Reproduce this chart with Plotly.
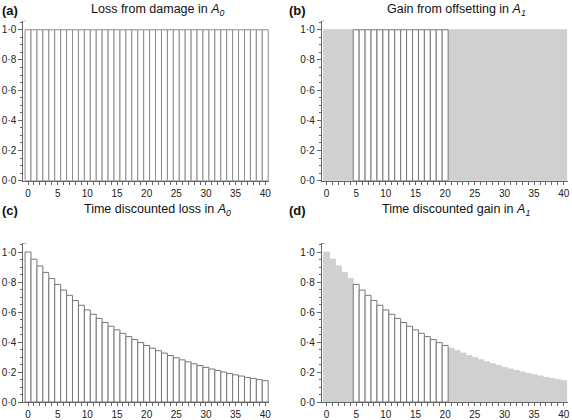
import plotly.graph_objects as go

# ---- data ----
years = list(range(41))
loss_a = [1.0] * 41
gain_b = [1.0] * 41
offset_start = 5
offset_end = 20
discounted = [1.000, 0.952, 0.907, 0.864, 0.823, 0.784, 0.746, 0.711, 0.677, 0.645,
              0.614, 0.585, 0.557, 0.530, 0.505, 0.481, 0.458, 0.436, 0.416, 0.396,
              0.377, 0.359, 0.342, 0.326, 0.310, 0.295, 0.281, 0.268, 0.255, 0.243,
              0.231, 0.220, 0.210, 0.200, 0.190, 0.181, 0.173, 0.164, 0.157, 0.149,
              0.142]
x_tickvals = [0, 5, 10, 15, 20, 25, 30, 35, 40]
x_ticktext = ["0", "5", "10", "15", "20", "25", "30", "35", "40"]
y_tickvals = [0.0, 0.2, 0.4, 0.6, 0.8, 1.0]
y_ticktext = ["0·0", "0·2", "0·4", "0·6", "0·8", "1·0"]
titles = ["Loss from damage in <i>A<sub>0</sub></i>",
          "Gain from offsetting in <i>A<sub>1</sub></i>",
          "Time discounted loss in <i>A<sub>0</sub></i>",
          "Time discounted gain in <i>A<sub>1</sub></i>"]
panel_labels = ["(a)", "(b)", "(c)", "(d)"]

W, H = 572, 420
EDGE = "#8c8c8c"
GRAY = "#d0d0d0"
AXC = "#666666"
FONT = "Liberation Sans, Arial, sans-serif"

fig = go.Figure()

# panel pixel geometry
xdoms = [(23.3 / W, 269.4 / W), (321.8 / W, 567.9 / W)]
ydoms = [(1 - 180.7 / H, 1 - 20.7 / H), (1 - 402.0 / H, 1 - 243.0 / H)]
panels = [("x", "y", 0, 0), ("x2", "y2", 1, 0), ("x3", "y3", 0, 1), ("x4", "y4", 1, 1)]


def bar(xs, ys, fill, line, xa, ya):
    fig.add_trace(go.Bar(x=xs, y=ys, width=1.0, marker=dict(color=fill, line=dict(color=line, width=1)),
                         xaxis=xa, yaxis=ya, showlegend=False, hoverinfo="skip"))


def split(values):
    gx, gy, wx, wy = [], [], [], []
    for t, v in zip(years, values):
        if offset_start <= t <= offset_end:
            wx.append(t); wy.append(v)
        else:
            gx.append(t); gy.append(v)
    return gx, gy, wx, wy


# (a)
bar(years, loss_a, "white", EDGE, "x", "y")
# (b)
gx, gy, wx, wy = split(gain_b)
bar(gx, gy, GRAY, GRAY, "x2", "y2")
bar(wx, wy, "white", "#777777", "x2", "y2")
# (c)
bar(years, discounted, "white", "#777777", "x3", "y3")
# (d)
gx, gy, wx, wy = split(discounted)
bar(gx, gy, GRAY, GRAY, "x4", "y4")
bar(wx, wy, "white", "#777777", "x4", "y4")

layout = dict(
    width=W, height=H, margin=dict(l=0, r=0, t=0, b=0),
    paper_bgcolor="white", plot_bgcolor="white",
    barmode="overlay", bargap=0,
    font=dict(family=FONT, size=10, color="#222222"),
)

for i, (xa, ya, cx, cy) in enumerate(panels):
    xk = "xaxis" + ("" if i == 0 else str(i + 1))
    yk = "yaxis" + ("" if i == 0 else str(i + 1))
    layout[xk] = dict(domain=list(xdoms[cx]), range=[-0.8, 40.7], anchor=ya,
                      tickmode="array", tickvals=x_tickvals, ticktext=x_ticktext,
                      ticks="outside", ticklen=3, tickcolor=AXC, tickwidth=1,
                      showline=True, linecolor=AXC, linewidth=1, showgrid=False, zeroline=False,
                      minor=dict(tickmode="linear", tick0=0, dtick=1, ticks="outside", ticklen=3,
                                 tickcolor=AXC, tickwidth=1, showgrid=False),
                      tickfont=dict(size=10, color="#222222"), automargin=False, fixedrange=True)
    layout[yk] = dict(domain=list(ydoms[cy]), range=[0, 1.06], anchor=xa,
                      tickmode="array", tickvals=y_tickvals, ticktext=y_ticktext,
                      ticks="outside", ticklen=4, tickcolor=AXC, tickwidth=1,
                      ticklabelstandoff=0,
                      showline=True, linecolor=AXC, linewidth=1, showgrid=False, zeroline=False,
                      minor=dict(tickmode="linear", tick0=0, dtick=0.05, ticks="outside", ticklen=2,
                                 tickcolor=AXC, tickwidth=1, showgrid=False),
                      tickfont=dict(size=10, color="#222222"), automargin=False, fixedrange=True)

fig.update_layout(**layout)

# bracket caps on the top of the y axes
shapes = []
for i, (xa, ya, cx, cy) in enumerate(panels):
    shapes.append(dict(type="line", xref=xa + " domain", yref=ya, x0=0, x1=0.012, y0=1.06, y1=1.06,
                       line=dict(color=AXC, width=1)))
fig.update_layout(shapes=shapes)

# titles and panel labels
title_cx = [157.5 / W, 456 / W]
title_cy = [1 - 10 / H, 1 - 210 / H]
label_x = [0 / W, 287 / W]
annotations = []
for i, (xa, ya, cx, cy) in enumerate(panels):
    annotations.append(dict(text=titles[i], xref="paper", yref="paper", x=title_cx[cx], y=title_cy[cy],
                            xanchor="center", yanchor="middle", showarrow=False,
                            font=dict(size=12.5, color="#111111", family=FONT)))
    annotations.append(dict(text="<b>" + panel_labels[i] + "</b>", xref="paper", yref="paper",
                            x=label_x[cx], y=title_cy[cy], xanchor="left", yanchor="middle",
                            showarrow=False, font=dict(size=13, color="#111111", family=FONT)))
fig.update_layout(annotations=annotations)

fig.write_html("out.html", config={"displayModeBar": False, "staticPlot": True},
               post_script="document.body.style.margin='0px';document.body.style.overflow='hidden';")
